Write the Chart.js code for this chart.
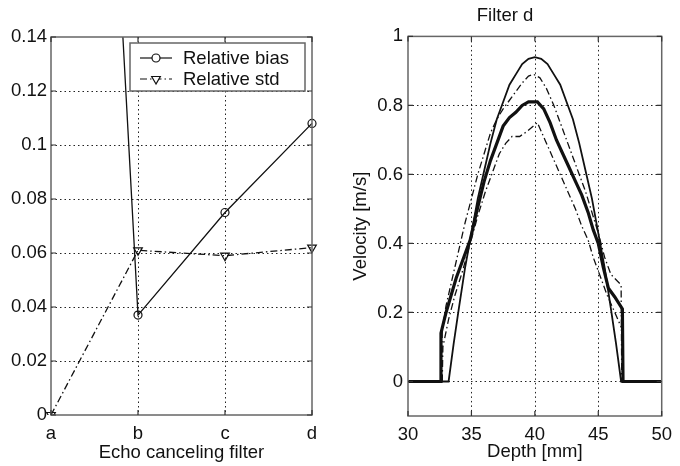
<!DOCTYPE html>
<html><head><meta charset="utf-8">
<script src="https://cdn.jsdelivr.net/npm/chart.js@4/dist/chart.umd.min.js"></script>
<style>
html,body{margin:0;padding:0;background:#fff;}
#wrap{position:relative;width:680px;height:466px;overflow:hidden;}
canvas{position:absolute;top:0;}
</style></head><body>
<div id="wrap">
<canvas id="left" width="340" height="466" style="left:0"></canvas>
<canvas id="right" width="340" height="466" style="left:340px"></canvas>
</div>
<script>
// ---- Left panel data ----
const filterLabels = ['a', 'b', 'c', 'd'];
const relBias = [0.63, 0.037, 0.075, 0.108];
const relStd = [0, 0.061, 0.059, 0.062];
const leftYTicks = [0, 0.02, 0.04, 0.06, 0.08, 0.1, 0.12, 0.14];
const legendLabels = ['Relative bias', 'Relative std'];
const leftXTitle = 'Echo canceling filter';

// ---- Right panel data ----
const trueDepth = [30, 33.2, 33.6, 34, 34.5, 35, 35.5, 36, 36.5, 37, 37.5, 38, 38.5, 39, 39.5, 40, 40.5, 41, 41.5, 42, 42.5, 43, 43.5, 44, 44.5, 45, 45.5, 46, 46.4, 46.8, 50];
const trueVel   = [0, 0, 0.11, 0.21, 0.33, 0.43, 0.53, 0.61, 0.69, 0.76, 0.81, 0.86, 0.89, 0.92, 0.935, 0.94, 0.935, 0.92, 0.89, 0.86, 0.81, 0.76, 0.69, 0.61, 0.53, 0.43, 0.33, 0.21, 0.11, 0, 0];

const meanDepth = [30, 32.6, 32.6, 33.0, 33.4, 33.8, 34.3, 34.9, 35.4, 36.0, 36.5, 37.0, 37.5, 38.0, 38.5, 39.0, 39.5, 40.2, 40.7, 41.2, 41.7, 42.2, 42.7, 43.2, 43.7, 44.2, 44.6, 45.0, 45.4, 45.8, 46.3, 46.9, 46.95, 50];
const meanVel   = [0, 0, 0.14, 0.2, 0.25, 0.3, 0.35, 0.41, 0.49, 0.58, 0.64, 0.69, 0.74, 0.765, 0.78, 0.80, 0.81, 0.81, 0.79, 0.75, 0.70, 0.66, 0.62, 0.58, 0.54, 0.49, 0.44, 0.40, 0.33, 0.27, 0.245, 0.21, 0, 0];

const upperDepth = [32.65, 32.7, 33.0, 33.5, 34.0, 34.5, 35.0, 35.5, 36.0, 36.5, 37.0, 37.5, 38.0, 38.5, 39.0, 39.5, 39.9, 40.4, 40.9, 41.5, 42.0, 42.5, 43.0, 43.5, 44.0, 44.5, 45.0, 45.5, 46.0, 46.8, 46.85];
const upperVel   = [0, 0.15, 0.22, 0.3, 0.38, 0.46, 0.53, 0.6, 0.66, 0.72, 0.76, 0.79, 0.815, 0.84, 0.865, 0.885, 0.89, 0.88, 0.85, 0.80, 0.75, 0.70, 0.65, 0.60, 0.55, 0.49, 0.43, 0.36, 0.31, 0.28, 0];

const lowerDepth = [32.7, 32.75, 33.2, 33.7, 34.3, 34.9, 35.5, 36.1, 36.7, 37.2, 37.7, 38.2, 38.8, 39.4, 40.2, 40.8, 41.4, 42.0, 42.6, 43.2, 43.7, 44.2, 44.6, 45.0, 45.7, 46.3, 46.9, 46.95];
const lowerVel   = [0, 0.1, 0.18, 0.25, 0.32, 0.4, 0.48, 0.55, 0.61, 0.66, 0.69, 0.71, 0.71, 0.725, 0.75, 0.70, 0.65, 0.60, 0.55, 0.50, 0.45, 0.41, 0.36, 0.32, 0.25, 0.2, 0.15, 0];

const depthTicks = [30, 35, 40, 45, 50];
const velTicks = [0, 0.2, 0.4, 0.6, 0.8, 1];
const rightTitle = 'Filter d';
const rightXTitle = 'Depth [mm]';
const rightYTitle = 'Velocity [m/s]';

// ---- styling ----
const FONT = "'Liberation Sans', Arial, Helvetica, sans-serif";
const FS = 18.5;
const INK = '#111';
const GRID = '#222';
const BOX = '#666';
const DASHDOT = [7, 3, 1.5, 3];

function pts(xs, ys) { return xs.map((x, i) => ({x: x, y: ys[i]})); }
function fmt(v) { return String(+Number(v).toFixed(3)); }

const gridPlugin = {
  id: 'dottedGrid',
  beforeDatasetsDraw(chart) {
    const {ctx, chartArea: a, scales} = chart;
    ctx.save();
    ctx.strokeStyle = GRID;
    ctx.lineWidth = 1;
    ctx.setLineDash([1.5, 3]);
    scales.x.ticks.forEach((t, i) => {
      const px = Math.round(scales.x.getPixelForTick(i)) + 0.5;
      if (px < a.left + 2 || px > a.right - 2) return;
      ctx.beginPath(); ctx.moveTo(px, a.top); ctx.lineTo(px, a.bottom); ctx.stroke();
    });
    scales.y.ticks.forEach(t => {
      const py = Math.round(scales.y.getPixelForValue(t.value)) + 0.5;
      if (py < a.top + 2 || py > a.bottom - 2) return;
      ctx.beginPath(); ctx.moveTo(a.left, py); ctx.lineTo(a.right, py); ctx.stroke();
    });
    ctx.restore();
  }
};

const boxPlugin = {
  id: 'matlabBox',
  afterDraw(chart) {
    const {ctx, chartArea: a, scales} = chart;
    ctx.save();
    ctx.strokeStyle = BOX;
    ctx.lineWidth = 1.5;
    ctx.setLineDash([]);
    ctx.strokeRect(a.left, a.top, a.right - a.left, a.bottom - a.top);
    ctx.strokeStyle = '#333';
    ctx.lineWidth = 1.2;
    const tl = 5;
    scales.x.ticks.forEach((t, i) => {
      const px = scales.x.getPixelForTick(i);
      ctx.beginPath();
      ctx.moveTo(px, a.bottom); ctx.lineTo(px, a.bottom - tl);
      ctx.moveTo(px, a.top); ctx.lineTo(px, a.top + tl);
      ctx.stroke();
    });
    scales.y.ticks.forEach(t => {
      const py = scales.y.getPixelForValue(t.value);
      ctx.beginPath();
      ctx.moveTo(a.left, py); ctx.lineTo(a.left + tl, py);
      ctx.moveTo(a.right, py); ctx.lineTo(a.right - tl, py);
      ctx.stroke();
    });
    ctx.restore();
  }
};

const legendPlugin = {
  id: 'boxLegend',
  afterDraw(chart) {
    const {ctx, chartArea: a} = chart;
    const x0 = a.right - 182, y0 = a.top + 6, w = 175, h = 48;
    ctx.save();
    ctx.fillStyle = '#fff';
    ctx.fillRect(x0, y0, w, h);
    ctx.strokeStyle = BOX;
    ctx.lineWidth = 1.5;
    ctx.strokeRect(x0, y0, w, h);
    const rows = [y0 + 15, y0 + 36];
    const ds = chart.data.datasets;
    rows.forEach((ry, i) => {
      const d = ds[i];
      ctx.strokeStyle = INK;
      ctx.lineWidth = 1.2;
      ctx.setLineDash(d.borderDash || []);
      ctx.beginPath();
      ctx.moveTo(x0 + 10, ry); ctx.lineTo(x0 + 42, ry);
      ctx.stroke();
      ctx.setLineDash([]);
      ctx.fillStyle = '#fff';
      Chart.helpers.drawPoint(ctx, {pointStyle: d.pointStyle, rotation: d.pointRotation || 0, radius: d.pointRadius, borderWidth: 1.2}, x0 + 26, ry);
      ctx.fillStyle = INK;
      ctx.font = FS + 'px ' + FONT;
      ctx.textBaseline = 'middle';
      ctx.textAlign = 'left';
      ctx.fillText(legendLabels[i], x0 + 53, ry + 1);
    });
    ctx.restore();
  }
};

function axisCommon() {
  return {
    grid: { display: false, drawTicks: false, tickLength: 0 },
    border: { display: false },
    ticks: { color: INK, font: { family: FONT, size: FS } }
  };
}

// ---- Left chart ----
const lx = axisCommon();
lx.type = 'category';
lx.offset = false;
lx.grid.offset = false;
lx.ticks.padding = 8;
lx.title = { display: true, text: leftXTitle, color: INK, font: { family: FONT, size: FS }, padding: { top: 0, bottom: 2 } };
lx.afterFit = s => { s.height = 51; };

const ly = axisCommon();
ly.type = 'linear';
ly.min = 0; ly.max = 0.14;
ly.ticks.padding = 4;
ly.ticks.callback = v => fmt(v);
ly.afterBuildTicks = s => { s.ticks = leftYTicks.map(v => ({value: v})); };
ly.afterFit = s => { s.width = 51; };

new Chart(document.getElementById('left'), {
  type: 'line',
  data: {
    labels: filterLabels,
    datasets: [
      { label: legendLabels[0], data: relBias, borderColor: INK, borderWidth: 1.3,
        pointStyle: 'circle', pointRadius: 4, pointBorderColor: INK, pointBackgroundColor: 'rgba(0,0,0,0)',
        pointBorderWidth: 1.2, tension: 0, clip: { left: 8, right: 8, top: 0, bottom: 8 } },
      { label: legendLabels[1], data: relStd, borderColor: INK, borderWidth: 1.3, borderDash: DASHDOT,
        pointStyle: 'triangle', pointRotation: 180, pointRadius: 5, pointBorderColor: INK,
        pointBackgroundColor: 'rgba(0,0,0,0)', pointBorderWidth: 1.2, tension: 0 }
    ]
  },
  options: {
    responsive: false, animation: false, devicePixelRatio: 1,
    layout: { padding: { left: 0, right: 28, top: 37, bottom: 0 } },
    plugins: { legend: { display: false }, tooltip: { enabled: false }, title: { display: false } },
    scales: { x: lx, y: ly }
  },
  plugins: [gridPlugin, boxPlugin, legendPlugin]
});

// ---- Right chart ----
const rx = axisCommon();
rx.type = 'linear';
rx.min = 30; rx.max = 50;
rx.ticks.padding = 8;
rx.ticks.callback = v => fmt(v);
rx.afterBuildTicks = s => { s.ticks = depthTicks.map(v => ({value: v})); };
rx.title = { display: true, text: rightXTitle, color: INK, font: { family: FONT, size: FS }, padding: { top: 0, bottom: 3 } };
rx.afterFit = s => { s.height = 50; };

const ry = axisCommon();
ry.type = 'linear';
ry.min = -0.1; ry.max = 1;
ry.ticks.padding = 5;
ry.ticks.callback = v => fmt(v);
ry.afterBuildTicks = s => { s.ticks = velTicks.map(v => ({value: v})); };
ry.title = { display: true, text: rightYTitle, color: INK, font: { family: FONT, size: FS }, padding: { top: 10, bottom: 0 } };
ry.afterFit = s => { s.width = 68; };

new Chart(document.getElementById('right'), {
  type: 'line',
  data: {
    datasets: [
      { data: pts(trueDepth, trueVel), borderColor: INK, borderWidth: 1.8, pointRadius: 0, tension: 0 },
      { data: pts(upperDepth, upperVel), borderColor: INK, borderWidth: 1.3, borderDash: DASHDOT, pointRadius: 0, tension: 0 },
      { data: pts(lowerDepth, lowerVel), borderColor: INK, borderWidth: 1.3, borderDash: DASHDOT, pointRadius: 0, tension: 0 },
      { data: pts(meanDepth, meanVel), borderColor: INK, borderWidth: 3.2, pointRadius: 0, tension: 0 }
    ]
  },
  options: {
    responsive: false, animation: false, devicePixelRatio: 1,
    layout: { padding: { left: 0, right: 10, top: 0, bottom: 0 } },
    plugins: {
      legend: { display: false }, tooltip: { enabled: false },
      title: { display: true, text: rightTitle, color: INK, font: { family: FONT, size: FS, weight: 'normal' }, padding: { top: 4.4, bottom: 9.8 } }
    },
    scales: { x: rx, y: ry }
  },
  plugins: [gridPlugin, boxPlugin]
});
</script>
</body></html>
